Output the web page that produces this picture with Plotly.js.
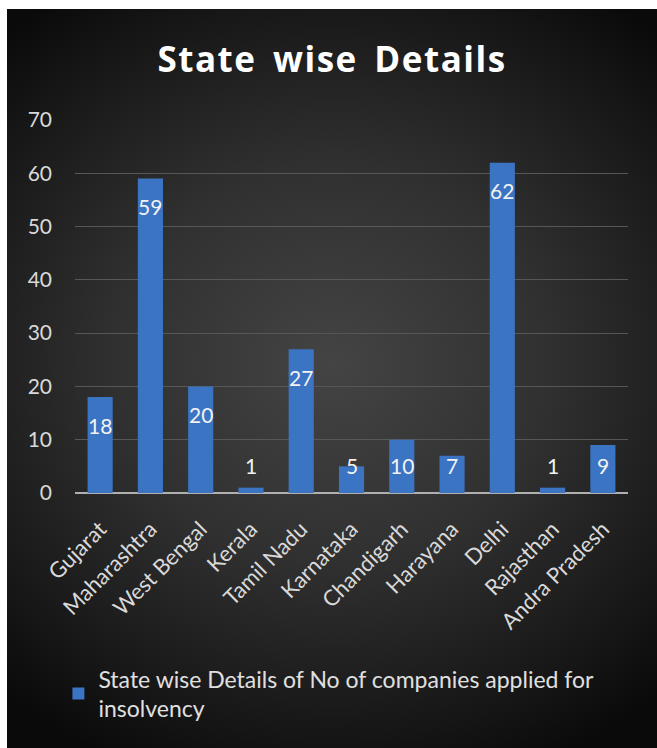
<!DOCTYPE html>
<html>
<head>
<meta charset="utf-8">
<script src="https://cdn.plot.ly/plotly-3.0.1.min.js"></script>
<style>
  html, body { margin: 0; padding: 0; background: #ffffff; width: 657px; height: 748px; overflow: hidden; }
  #chart {
    position: absolute; left: 7px; top: 9px; width: 650px; height: 739px;
    background: radial-gradient(ellipse 75% 60% at 50% 48%, #444444 0%, #303030 45%, #151515 85%, #0a0a0a 100%);
  }
  #chart .gtitle { letter-spacing: 1.5px; word-spacing: 6px; }
</style>
</head>
<body>
<div id="chart"></div>
<script>
const states = ["Gujarat", "Maharashtra", "West Bengal", "Kerala", "Tamil Nadu", "Karnataka",
                "Chandigarh", "Harayana", "Delhi", "Rajasthan", "Andra Pradesh"];
const companies = [18, 59, 20, 1, 27, 5, 10, 7, 62, 1, 9];
const seriesName = "State wise Details of No of companies applied for<br>insolvency";
const chartTitle = "State wise Details";
const yTicks = [0, 10, 20, 30, 40, 50, 60, 70];

const FONT = "Lato, 'Open Sans', sans-serif";

const trace = {
  type: "bar",
  x: states,
  y: companies,
  name: seriesName,
  width: 0.5,
  marker: { color: "#3a74c2", line: { width: 0 } },
  hoverinfo: "x+y",
  showlegend: true
};

// Data labels: placed near the top inside tall bars, at a fixed minimum height for short ones
const labelOffset = 5.25;
const annotations = states.map((s, i) => ({
  x: s,
  y: Math.max(companies[i] - labelOffset, labelOffset),
  text: String(companies[i]),
  showarrow: false,
  xref: "x", yref: "y",
  font: { family: FONT, size: 21, color: "#f2f2f2" }
}));

const layout = {
  width: 650, height: 739,
  paper_bgcolor: "rgba(0,0,0,0)",
  plot_bgcolor: "rgba(0,0,0,0)",
  margin: { l: 68, r: 29, t: 111, b: 255 },
  title: {
    text: "<b>" + chartTitle + "</b>",
    font: { family: "'Open Sans', Lato, sans-serif", size: 35, color: "#ffffff" },
    x: 0.5, xanchor: "center",
    y: 1 - 51 / 739, yanchor: "middle"
  },
  xaxis: {
    type: "category",
    tickangle: -45,
    tickfont: { family: FONT, size: 22, color: "#d9d9d9" },
    showgrid: false,
    showline: false,
    ticks: "",
    zeroline: false,
    ticklabelstandoff: 18
  },
  yaxis: {
    range: [0, 70],
    tickvals: yTicks,
    ticktext: yTicks.map(String),
    tickfont: { family: FONT, size: 21, color: "#d9d9d9" },
    showgrid: true,
    gridcolor: "#575757",
    gridwidth: 1,
    zeroline: true,
    zerolinecolor: "#b0b0b0",
    zerolinewidth: 2,
    showline: false,
    ticks: "",
    ticklabelstandoff: 22
  },
  legend: {
    orientation: "h",
    x: -0.03, xanchor: "left",
    y: -0.44, yanchor: "top",
    font: { family: FONT, size: 23, color: "#e0e0e0" },
    bgcolor: "rgba(0,0,0,0)"
  },
  annotations: annotations,
  bargap: 0.5
};

Plotly.newPlot("chart", [trace], layout, { displayModeBar: false, staticPlot: true });
</script>
</body>
</html>
